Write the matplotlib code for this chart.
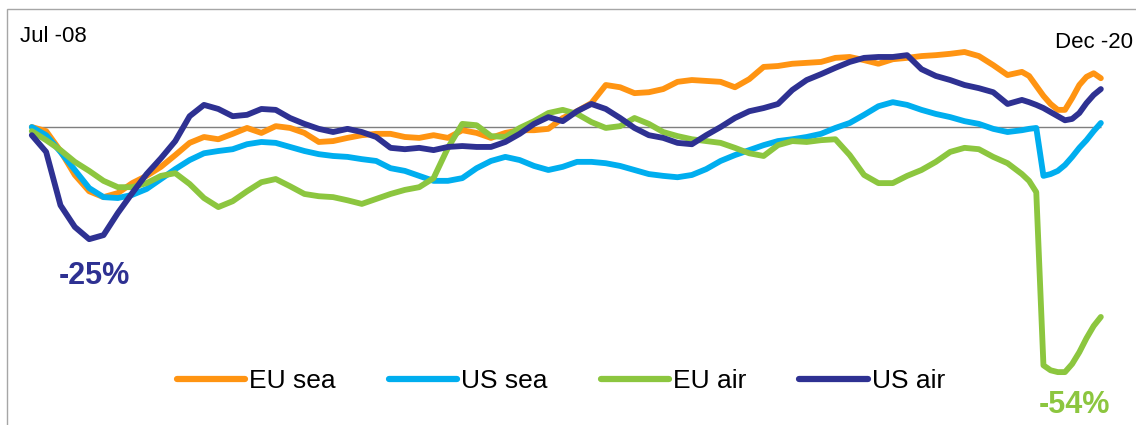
import matplotlib
matplotlib.use("Agg")
import matplotlib.pyplot as plt
from matplotlib.patches import Rectangle

plt.rcParams['font.family'] = ['Liberation Sans', 'DejaVu Sans']

# months since Jul-08 (2-monthly, then monthly through 2020)
months = list(range(0, 139, 2)) + list(range(139, 150))

eu_sea = [0, -0.9, -5.3, -10.6, -14.2, -15.5, -14.6, -12.4, -10.8, -8.8, -6.2, -3.5,
          -2.2, -2.7, -1.5, -0.2, -1.3, 0.2, -0.2, -1.3, -3.3, -3.1, -2.4, -1.8,
          -1.5, -1.5, -2.2, -2.4, -1.8, -2.4, -0.7, -1.3, -2.4, -1.3, -0.7, -0.7,
          -0.4, 2.0, 3.5, 5.3, 9.3, 8.8, 7.5, 7.7, 8.4, 10.0, 10.4, 10.2,
          10.0, 8.8, 10.6, 13.3, 13.5, 14.0, 14.2, 14.4, 15.3, 15.5, 14.8, 14.0,
          15.0, 15.3, 15.7, 15.9, 16.2, 16.6, 15.7, 13.7, 11.5, 12.2,
          11.3, 9.1, 6.9, 5.1, 3.8, 3.8, 6.4, 9.3, 11.1, 11.9, 10.8]

us_sea = [0, -1.8, -5.5, -9.5, -13.5, -15.5, -15.7, -15.0, -13.7, -11.5, -9.3, -7.3,
          -5.8, -5.3, -4.9, -3.8, -3.3, -3.5, -4.4, -5.3, -6.0, -6.4, -6.6, -7.1,
          -7.5, -9.1, -9.7, -10.8, -11.9, -11.9, -11.3, -9.1, -7.5, -6.6, -7.3, -8.6,
          -9.5, -8.8, -7.7, -7.7, -8.0, -8.6, -9.5, -10.4, -10.8, -11.1, -10.6, -9.3,
          -7.5, -6.2, -5.1, -4.0, -3.1, -2.7, -2.2, -1.5, -0.2, 0.9, 2.7, 4.6,
          5.5, 4.9, 3.8, 2.9, 2.2, 1.3, 0.7, -0.4, -1.1, -0.7,
          -0.4, -0.2, -10.8, -10.4, -9.7, -8.4, -6.6, -4.6, -2.9, -0.9, 0.9]

eu_air = [-0.9, -2.9, -5.1, -7.7, -9.7, -11.9, -13.3, -13.3, -12.4, -10.8, -10.2, -12.6,
          -15.7, -17.7, -16.4, -14.2, -12.2, -11.5, -13.1, -14.8, -15.3, -15.5, -16.2, -17.0,
          -15.9, -14.8, -13.9, -13.3, -11.3, -4.6, 0.7, 0.4, -2.0, -2.2, -0.2, 1.3,
          3.1, 3.8, 2.9, 1.1, -0.2, 0.2, 2.0, 0.7, -1.1, -2.0, -2.7, -3.1,
          -3.5, -4.6, -5.8, -6.4, -4.0, -3.1, -3.3, -2.9, -2.7, -6.2, -10.6, -12.4,
          -12.4, -10.8, -9.5, -7.7, -5.5, -4.6, -4.9, -6.6, -8.0, -10.4,
          -11.9, -14.4, -52.7, -53.8, -54.2, -54.2, -52.4, -49.8, -46.7, -44.0, -42.0]

us_air = [-1.8, -5.5, -17.3, -22.1, -24.8, -23.9, -19.0, -14.6, -10.4, -6.9, -3.1, 2.4,
          4.9, 4.0, 2.4, 2.7, 4.0, 3.8, 2.0, 0.7, -0.4, -1.1, -0.4, -1.1,
          -2.2, -4.6, -4.9, -4.6, -5.1, -4.4, -4.2, -4.4, -4.4, -3.3, -1.5, 0.7,
          2.2, 1.3, 3.5, 5.1, 4.0, 2.0, -0.2, -1.8, -2.4, -3.5, -3.8, -1.8,
          0, 2.0, 3.5, 4.2, 5.1, 8.2, 10.4, 11.7, 13.1, 14.4, 15.3, 15.5,
          15.5, 15.9, 12.8, 11.3, 10.4, 9.3, 8.6, 7.7, 5.1, 6.0,
          5.5, 4.9, 4.2, 3.3, 2.4, 1.5, 1.8, 3.1, 5.3, 7.1, 8.4]

series = [("EU sea", eu_sea, "#FF9412"),
          ("US sea", us_sea, "#00AEEF"),
          ("EU air", eu_air, "#8CC63F"),
          ("US air", us_air, "#2E3192")]

fig = plt.figure(figsize=(11.36, 4.25), dpi=100)
ax = fig.add_axes([0, 0, 1, 1])
ax.set_xlim(-4.43, 153.9)
ax.set_ylim(-65.9, 28.1)
ax.axis("off")

# outer frame
fig.patches.append(Rectangle((7 / 1136, -0.1), 1.2, 1.1 - 9 / 425,
                             transform=fig.transFigure, fill=False,
                             edgecolor="#A6A6A6", linewidth=1))

ax.hlines(0, months[0], months[-1], color="#7F7F7F", linewidth=1, zorder=1)

for name, vals, col in series:
    ax.plot(months, vals, color=col, linewidth=4.2, label=name,
            solid_joinstyle="round", solid_capstyle="round", zorder=2)

ax.text(20 / 1136, 1 - 37 / 425, "Jul -08", transform=fig.transFigure,
        fontsize=16, va="center", ha="left")
ax.text(1133 / 1136, 1 - 42 / 425, "Dec -20", transform=fig.transFigure,
        fontsize=16, va="center", ha="right")

ax.text(94 / 1136, 1 - 276 / 425, "-25%", transform=fig.transFigure,
        fontsize=22, fontweight="bold", color="#2E3192", ha="center", va="center")
ax.text(1074 / 1136, 1 - 405 / 425, "-54%", transform=fig.transFigure,
        fontsize=22, fontweight="bold", color="#8CC63F", ha="center", va="center")

leg = ax.legend(loc="center", bbox_to_anchor=(561 / 1136, 1 - 381 / 425),
                bbox_transform=fig.transFigure, ncol=4, frameon=False,
                fontsize=19, handlelength=2.6, handletextpad=0.15,
                columnspacing=2.0)
for h in leg.get_lines():
    h.set_linewidth(4.5)

fig.savefig("out.png", dpi=100)
